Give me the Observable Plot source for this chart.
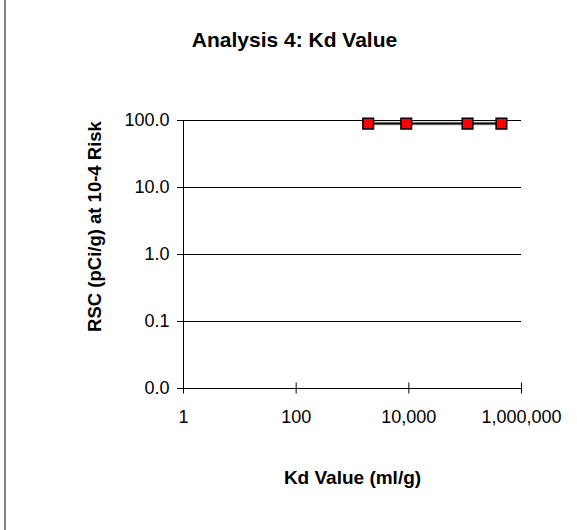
<!DOCTYPE html>
<html><head><meta charset="utf-8">
<script src="https://cdn.jsdelivr.net/npm/d3@7"></script>
<script src="https://cdn.jsdelivr.net/npm/@observablehq/plot@0.6"></script>
<style>
body{margin:0;background:#fff;}
#wrap{position:relative;width:577px;height:530px;}
#wrap svg{position:absolute;left:0;top:0;}
#border{position:absolute;left:4px;top:0;width:2px;height:530px;background:#808080;z-index:2;}
</style></head><body>
<div id="wrap"><div id="border"></div></div>
<script>
const chartTitle = "Analysis 4: Kd Value";
const xLabel = "Kd Value (ml/g)";
const yLabel = "RSC (pCi/g) at 10-4 Risk";
const kdValues = [1900, 9000, 110000, 440000];
const rscValues = [90, 90, 90, 90];
const xTicks = [1, 100, 10000, 1000000];
const yTicks = [0.01, 0.1, 1, 10, 100];

const data = kdValues.map((kd, i) => ({kd, rsc: rscValues[i]}));
const font = "'Liberation Sans', Arial, sans-serif";

const chart = Plot.plot({
  width: 577, height: 530,
  marginLeft: 183, marginRight: 56, marginTop: 120, marginBottom: 142,
  style: {fontFamily: font, fontSize: "18px", color: "#000", background: "transparent", overflow: "visible"},
  x: {type: "log", domain: [1, 1e6]},
  y: {type: "log", domain: [0.01, 100]},
  marks: [
    Plot.gridY(yTicks, {stroke: "#000", strokeOpacity: 1}),
    Plot.ruleX([1], {stroke: "#000"}),
    Plot.ruleY([0.01], {stroke: "#000"}),
    Plot.ruleX(xTicks, {y1: 0.01, y2: 0.01, insetTop: -5.5, insetBottom: -5.5, stroke: "#000"}),
    Plot.axisX(xTicks, {tickSize: 0, tickPadding: 22, tickFormat: d3.format(","), label: null, fontSize: 18}),
    Plot.axisY(yTicks, {tickSize: 6, tickPadding: 8, tickFormat: d3.format(".1f"), label: null, fontSize: 18}),
    Plot.line(data, {x: "kd", y: "rsc", stroke: "#8c8c8c", strokeWidth: 3.5}),
    Plot.line(data, {x: "kd", y: "rsc", stroke: "#000", strokeWidth: 1.5}),
    Plot.dot(data, {x: "kd", y: "rsc", symbol: "square", r: 6, fill: "#ff0000", stroke: "#000", strokeWidth: 1.5}),
    Plot.text([chartTitle], {text: d => d, frameAnchor: "top", textAnchor: "middle", lineAnchor: "middle", dx: -58, dy: -80, fontSize: 21, fontWeight: "bold"}),
    Plot.text([xLabel], {text: d => d, frameAnchor: "bottom", textAnchor: "middle", lineAnchor: "middle", dy: 89.5, fontSize: 19, fontWeight: "bold"}),
    Plot.text([yLabel], {text: d => d, frameAnchor: "left", textAnchor: "middle", lineAnchor: "middle", dx: -88, dy: -28, rotate: -90, fontSize: 18.5, fontWeight: "bold"})
  ]
});
document.getElementById("wrap").appendChild(chart);
</script>
</body></html>
